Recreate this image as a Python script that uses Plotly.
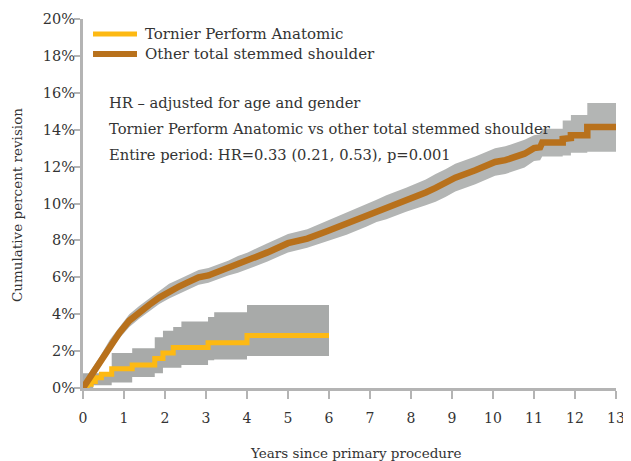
import plotly.graph_objects as go

# ---- data ----
# Other total stemmed shoulder: years, cumulative % revision, 95% CI
other_t = [0, 0.17, 0.41, 0.65, 0.89, 1.13, 1.37, 1.61, 1.86, 2.1, 2.34, 2.58, 2.82, 3.06, 3.3,
           3.54, 3.78, 4.02, 4.5, 5.0, 5.47, 5.95, 6.43, 6.92, 7.16, 7.4, 7.88, 8.36, 8.6, 8.84,
           9.08, 9.57, 10.05, 10.3, 10.5, 10.77, 11.0, 11.15, 11.2, 11.7, 11.7, 11.9, 11.9, 12.3,
           12.3, 13.0]
other_v = [0, 0.6, 1.4, 2.3, 3.0, 3.65, 4.1, 4.5, 4.9, 5.25, 5.5, 5.75, 6.0, 6.1, 6.3,
           6.5, 6.7, 6.9, 7.35, 7.85, 8.1, 8.5, 8.9, 9.35, 9.6, 9.8, 10.2, 10.6, 10.85, 11.1,
           11.4, 11.8, 12.25, 12.35, 12.5, 12.7, 13.0, 13.05, 13.3, 13.3, 13.5, 13.55, 13.7, 13.7,
           14.15, 14.15]
other_lo = [0, 0.3, 1.1, 2.0, 2.7, 3.3, 3.75, 4.15, 4.55, 4.85, 5.1, 5.35, 5.6, 5.7, 5.9,
            6.1, 6.25, 6.45, 6.85, 7.35, 7.6, 7.95, 8.3, 8.75, 9.0, 9.15, 9.55, 9.9, 10.1, 10.35,
            10.65, 11.05, 11.5, 11.6, 11.75, 11.95, 12.3, 12.35, 12.55, 12.55, 12.6, 12.6, 12.75, 12.75,
            12.8, 12.8]
other_hi = [0.2, 0.9, 1.7, 2.6, 3.3, 4.0, 4.45, 4.85, 5.25, 5.65, 5.9, 6.15, 6.4, 6.5, 6.7,
            6.9, 7.15, 7.35, 7.85, 8.35, 8.6, 9.05, 9.5, 9.95, 10.2, 10.45, 10.85, 11.3, 11.6, 11.85,
            12.15, 12.55, 13.0, 13.1, 13.25, 13.45, 13.7, 13.75, 14.05, 14.05, 14.5, 14.5, 14.8, 14.8,
            15.45, 15.45]

# Tornier Perform Anatomic (step curve) and its 95% CI
torn_t = [0, 0.1, 0.2, 0.3, 0.45, 0.7, 1.2, 1.75, 1.95, 2.2, 3.05, 4.0, 6.0]
torn_v = [0, 0.2, 0.35, 0.55, 0.75, 1.05, 1.25, 1.6, 1.9, 2.2, 2.45, 2.85, 2.85]
torn_ci_t = [0, 0.25, 0.7, 1.2, 1.75, 1.95, 2.2, 2.4, 3.05, 3.2, 4.0, 6.0]
torn_lo = [0, 0.15, 0.3, 0.6, 0.8, 1.1, 1.1, 1.25, 1.5, 1.55, 1.73, 1.73]
torn_hi = [0.8, 0.8, 1.9, 2.15, 2.75, 3.1, 3.3, 3.6, 3.85, 4.1, 4.5, 4.5]

x_ticks = list(range(0, 14))
y_ticks = [0, 2, 4, 6, 8, 10, 12, 14, 16, 18, 20]
y_tick_text = [f"{v}%" for v in y_ticks]

series_names = ["Tornier Perform Anatomic", "Other total stemmed shoulder"]
annotation_lines = [
    "HR \u2013 adjusted for age and gender",
    "Tornier Perform Anatomic vs other total stemmed shoulder",
    "Entire period: HR=0.33 (0.21, 0.53), p=0.001",
]

# ---- styling ----
FONT = "DejaVu Serif"
TXT = "#333333"
YEL = "#FDB913"
BRN = "#B8711C"
BAND_O = "#B3B5B4"
BAND_T = "#A8AAA9"
AXC = "#B4B4B4"

fig = go.Figure()

# CI bands
fig.add_trace(go.Scatter(x=other_t, y=other_lo, mode="lines", line=dict(width=0, color=BAND_O),
                         showlegend=False, hoverinfo="skip"))
fig.add_trace(go.Scatter(x=other_t, y=other_hi, mode="lines", line=dict(width=0, color=BAND_O),
                         fill="tonexty", fillcolor=BAND_O, showlegend=False, hoverinfo="skip"))
fig.add_trace(go.Scatter(x=torn_ci_t, y=torn_lo, mode="lines", line=dict(width=0, color=BAND_T, shape="hv"),
                         showlegend=False, hoverinfo="skip"))
fig.add_trace(go.Scatter(x=torn_ci_t, y=torn_hi, mode="lines", line=dict(width=0, color=BAND_T, shape="hv"),
                         fill="tonexty", fillcolor=BAND_T, showlegend=False, hoverinfo="skip"))

# main curves
fig.add_trace(go.Scatter(x=torn_t, y=torn_v, mode="lines", name=series_names[0], showlegend=False,
                         line=dict(color=YEL, width=5, shape="hv")))
fig.add_trace(go.Scatter(x=other_t, y=other_v, mode="lines", name=series_names[1], showlegend=False,
                         line=dict(color=BRN, width=6.5)))

# legend drawn as shapes + text
for name, col, w, yp in [(series_names[0], YEL, 5, 0.9593), (series_names[1], BRN, 6, 0.9051)]:
    fig.add_shape(type="line", xref="paper", yref="paper", x0=0.0188, x1=0.1013, y0=yp, y1=yp,
                  line=dict(color=col, width=w))
    fig.add_annotation(text=name, xref="paper", yref="paper", x=0.1125, y=yp,
                       xanchor="left", yanchor="middle", showarrow=False,
                       font=dict(family=FONT, size=15, color=TXT))

# annotation text block
for txt, yp in zip(annotation_lines, [0.775, 0.7046, 0.634]):
    fig.add_annotation(text=txt, xref="paper", yref="paper", x=0.045, y=yp,
                       xanchor="left", yanchor="middle", showarrow=False,
                       font=dict(family=FONT, size=14.7, color=TXT))

# axis titles as annotations
fig.add_annotation(text="Years since primary procedure", xref="paper", yref="paper",
                   x=0.512, y=-0.176, xanchor="center", yanchor="middle", showarrow=False,
                   font=dict(family=FONT, size=13.5, color=TXT))
fig.add_annotation(text="Cumulative percent revision", xref="paper", yref="paper",
                   x=-0.1237, y=0.496, xanchor="center", yanchor="middle", showarrow=False,
                   textangle=-90, font=dict(family=FONT, size=13.5, color=TXT))

fig.update_layout(
    width=623, height=453,
    margin=dict(l=75, r=15, t=11, b=73),
    paper_bgcolor="white", plot_bgcolor="white",
    font=dict(family=FONT, size=14, color=TXT),
    showlegend=False,
    xaxis=dict(range=[0, 13], tickvals=x_ticks, ticktext=[str(v) for v in x_ticks],
               showgrid=False, zeroline=False, showline=True, linecolor=AXC, linewidth=3,
               ticks="outside", ticklen=8, tickwidth=2, tickcolor=AXC, automargin=False,
               ticklabelstandoff=7, ticklabeloverflow="allow",
               tickfont=dict(family=FONT, size=14, color=TXT)),
    yaxis=dict(range=[0, 20], tickvals=y_ticks, ticktext=y_tick_text,
               showgrid=False, zeroline=False, showline=True, linecolor=AXC, linewidth=3,
               ticks="outside", ticklen=6, tickwidth=2, tickcolor=AXC, automargin=False,
               ticklabelstandoff=-4,
               tickfont=dict(family=FONT, size=14.5, color=TXT)),
)

fig.write_html("out.html")
